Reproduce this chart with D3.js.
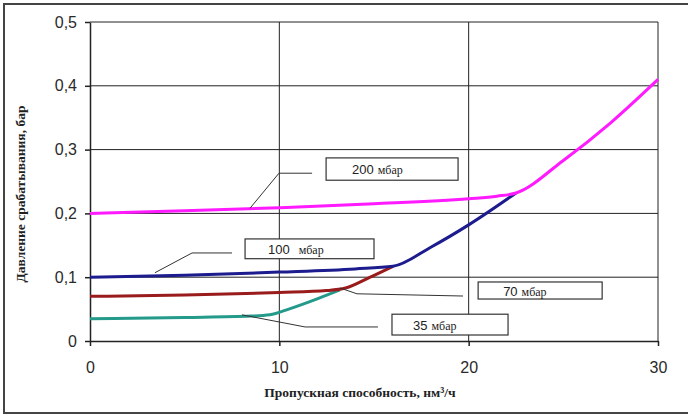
<!DOCTYPE html>
<html>
<head>
<meta charset="utf-8">
<script src="https://cdn.jsdelivr.net/npm/d3@7"></script>
<style>
  body { margin: 0; background: #fff; }
  svg { display: block; }
</style>
</head>
<body>
<div id="container"></div>
<script>
(function(){
  "use strict";
  // curves: flow (нм3/ч) and response pressure (бар)
  var flow200 = [0, 5, 10, 15, 20, 21.5, 22.5, 25, 27.5, 30];
  var p200 = [0.200, 0.204, 0.209, 0.215, 0.223, 0.227, 0.232, 0.283, 0.342, 0.410];
  var flow100 = [0, 5, 10, 14, 16, 18, 20, 22.5];
  var p100 = [0.100, 0.103, 0.108, 0.113, 0.117, 0.147, 0.182, 0.232];
  var flow70 = [0, 5, 10, 12.5, 13.5, 14.8, 16];
  var p70 = [0.070, 0.072, 0.076, 0.079, 0.083, 0.100, 0.117];
  var flow35 = [0, 5, 8.5, 9.5, 10.5, 12, 13.2];
  var p35 = [0.035, 0.037, 0.039, 0.041, 0.050, 0.066, 0.080];

  var xTicks = [0, 10, 20, 30];
  var yTicks = [0, 0.1, 0.2, 0.3, 0.4, 0.5];

  // callout labels (number, unit), box corners and leader points in data units
  var labelNum = ["200", "100", "70", "35"];
  var labelBox = [[12.47, 0.287, 19.44, 0.252], [8.19, 0.160, 15.0, 0.129],
                  [20.5, 0.0925, 27.05, 0.0658], [15.95, 0.042, 22.08, 0.0094]];
  var labelTextX = [13.84, 9.40, 21.82, 17.06];
  var leaders = [
    [[11.73, 0.263], [9.98, 0.263], [8.45, 0.208]],
    [[7.50, 0.138], [5.39, 0.138], [3.43, 0.107]],
    [[13.21, 0.083], [14.10, 0.074], [19.70, 0.0705]],
    [[8.03, 0.041], [11.36, 0.022], [15.21, 0.022]]
  ];

  var margin = { top: 22, right: 30, bottom: 76, left: 90 };
  var W = 688, H = 417;
  var width = W - margin.left - margin.right;
  var height = H - margin.top - margin.bottom;

  var svg = d3.select("#container").append("svg")
      .attr("width", W)
      .attr("height", H);

  // outer frame (cut off at the right)
  svg.append("rect")
      .attr("x", 4).attr("y", 4)
      .attr("width", W + 10).attr("height", 409)
      .attr("fill", "none")
      .attr("stroke", "#444")
      .attr("stroke-width", 2);

  var chart = svg.append("g")
      .attr("transform", "translate(" + margin.left + "," + margin.top + ")");

  var xScale = d3.scaleLinear().domain([0, 30]).range([0, width]);
  var yScale = d3.scaleLinear().domain([0, 0.5]).range([height, 0]);

  // grid
  chart.append("g").selectAll("line.h")
      .data(yTicks.slice(1)).enter().append("line")
      .attr("x1", 0).attr("x2", width)
      .attr("y1", function(d) { return yScale(d); })
      .attr("y2", function(d) { return yScale(d); })
      .attr("stroke", "#222").attr("stroke-width", 1);
  chart.append("g").selectAll("line.v")
      .data(xTicks.slice(1)).enter().append("line")
      .attr("y1", 0).attr("y2", height)
      .attr("x1", function(d) { return xScale(d); })
      .attr("x2", function(d) { return xScale(d); })
      .attr("stroke", "#222").attr("stroke-width", 1);

  var fmt = function(d) { return d === 0 ? "0" : d.toFixed(1).replace(".", ","); };
  var yAxis = d3.axisLeft(yScale).tickValues(yTicks).tickFormat(fmt)
      .tickSize(5).tickSizeOuter(0).tickPadding(8);
  var xAxis = d3.axisBottom(xScale).tickValues(xTicks).tickFormat(d3.format("d"))
      .tickSize(5).tickSizeOuter(0).tickPadding(16);

  var yg = chart.append("g").call(yAxis);
  var xg = chart.append("g").attr("transform", "translate(0," + height + ")").call(xAxis);
  [yg, xg].forEach(function(g) {
    g.selectAll("path, line").attr("stroke", "#222").attr("stroke-width", 1.5);
    g.selectAll("text")
        .attr("fill", "#2a2a2a")
        .style("font-family", "Liberation Sans, Arial, sans-serif")
        .style("font-size", "16px");
  });

  var line = d3.line()
      .x(function(d) { return xScale(d[0]); })
      .y(function(d) { return yScale(d[1]); })
      .curve(d3.curveMonotoneX);

  var series = [
    { xs: flow35, ys: p35, color: "#239a8a" },
    { xs: flow70, ys: p70, color: "#9a1b1b" },
    { xs: flow100, ys: p100, color: "#1c1c8e" },
    { xs: flow200, ys: p200, color: "#ff1aff" }
  ];
  series.forEach(function(s) {
    chart.append("path")
        .datum(d3.zip(s.xs, s.ys))
        .attr("d", line)
        .attr("fill", "none")
        .attr("stroke", s.color)
        .attr("stroke-width", 3)
        .attr("stroke-linejoin", "round");
  });

  // callouts
  var leaderLine = d3.line()
      .x(function(d) { return xScale(d[0]); })
      .y(function(d) { return yScale(d[1]); });
  leaders.forEach(function(pts) {
    chart.append("path")
        .attr("d", leaderLine(pts))
        .attr("fill", "none")
        .attr("stroke", "#333")
        .attr("stroke-width", 1);
  });
  labelNum.forEach(function(num, i) {
    var b = labelBox[i];
    chart.append("rect")
        .attr("x", xScale(b[0])).attr("y", yScale(b[1]))
        .attr("width", xScale(b[2]) - xScale(b[0]))
        .attr("height", yScale(b[3]) - yScale(b[1]))
        .attr("fill", "#fff")
        .attr("stroke", "#333")
        .attr("stroke-width", 1.2);
    var t = chart.append("text")
        .attr("x", xScale(labelTextX[i]))
        .attr("y", (yScale(b[1]) + yScale(b[3])) / 2 + 5)
        .attr("fill", "#222");
    t.append("tspan")
        .style("font-family", "Liberation Sans, Arial, sans-serif")
        .style("font-size", "13px")
        .text(num);
    t.append("tspan")
        .attr("dx", num === "100" ? 9 : 4)
        .style("font-family", "Liberation Serif, Times New Roman, serif")
        .style("font-size", "12px")
        .text("мбар");
  });

  // axis titles
  svg.append("text")
      .attr("x", 360).attr("y", 397)
      .attr("text-anchor", "middle")
      .style("font-family", "Liberation Serif, Times New Roman, serif")
      .style("font-weight", "bold")
      .style("font-size", "13.5px")
      .attr("fill", "#222")
      .text("Пропускная способность, нм³/ч");
  svg.append("text")
      .attr("transform", "translate(25,194) rotate(-90)")
      .attr("text-anchor", "middle")
      .style("font-family", "Liberation Serif, Times New Roman, serif")
      .style("font-weight", "bold")
      .style("font-size", "13.5px")
      .attr("fill", "#222")
      .text("Давление срабатывания, бар");
})();
</script>
</body>
</html>
